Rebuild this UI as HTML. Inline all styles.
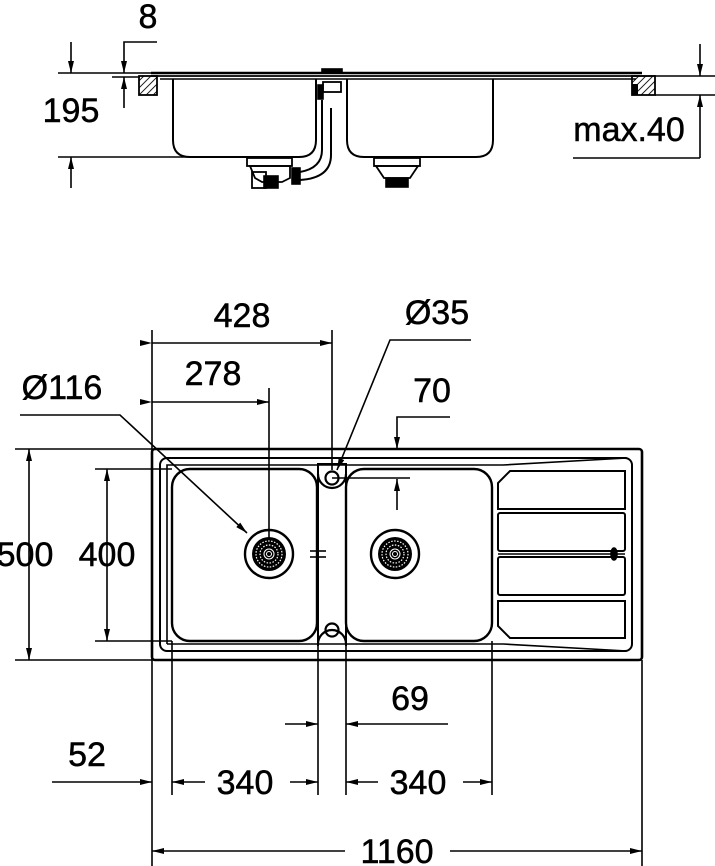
<!DOCTYPE html>
<html><head><meta charset="utf-8"><style>
html,body{margin:0;padding:0;background:#fff;}
svg{display:block;}
text{font-family:"Liberation Sans",Arial,sans-serif;font-size:34px;fill:#000;stroke:#000;stroke-width:0.5;}
</style></head><body>
<svg width="715" height="866" viewBox="0 0 715 866" xmlns="http://www.w3.org/2000/svg">
<defs>
<marker id="a" viewBox="0 0 12 6" refX="12" refY="3" markerWidth="12" markerHeight="6" markerUnits="userSpaceOnUse" orient="auto"><path d="M0,0L12,3L0,6z" fill="#000"/></marker>
<pattern id="h" width="5" height="5" patternUnits="userSpaceOnUse" patternTransform="rotate(45)"><line x1="0" y1="0" x2="0" y2="5" stroke="#000" stroke-width="1.8"/></pattern>
</defs>
<g fill="none" stroke="#000" stroke-width="1.6">
<!-- ===== TOP SECTION ===== -->
<line x1="58" y1="73" x2="152" y2="73"/>
<line x1="58" y1="157" x2="190" y2="157"/>
<line x1="71" y1="42" x2="71" y2="73" marker-end="url(#a)"/>
<line x1="71" y1="188" x2="71" y2="157" marker-end="url(#a)"/>
<polyline points="157,42 124,42 124,73" marker-end="url(#a)"/>
<line x1="124" y1="108" x2="124" y2="77" marker-end="url(#a)"/>
<line x1="112" y1="77" x2="140" y2="77"/>
<rect x="139" y="76" width="18" height="19" fill="url(#h)" stroke-width="1.8"/>
<rect x="632" y="76" width="23" height="19" fill="url(#h)" stroke-width="1.8"/>
<rect x="632" y="84" width="6" height="11" fill="#000" stroke="none"/>
<line x1="632" y1="76" x2="715" y2="76"/>
<line x1="655" y1="95" x2="715" y2="95"/>
<line x1="573" y1="158" x2="700" y2="158"/>
<line x1="700" y1="44" x2="700" y2="76" marker-end="url(#a)"/>
<line x1="700" y1="158" x2="700" y2="95" marker-end="url(#a)"/>
<line x1="151" y1="73" x2="642" y2="73" stroke-width="2.4"/>
<line x1="151" y1="76" x2="640" y2="76" stroke-width="1.8"/>
<line x1="160" y1="79" x2="636" y2="79" stroke-width="1.4"/>
<rect x="322" y="69" width="20" height="4" fill="#000"/>
<path d="M173,79 V140 Q173,157 190,157 H299 Q316,157 316,140 V79" stroke-width="2"/>
<path d="M347,79 V140 Q347,157 364,157 H476 Q493,157 493,140 V79" stroke-width="2"/>
<rect x="323" y="82" width="18" height="10" stroke-width="1.8"/>
<rect x="318" y="85" width="5" height="14" fill="#000"/>
<path d="M322,100 V150 Q322,168 300,172" stroke-width="2"/>
<path d="M331,108 V155 Q331,178 300,180" stroke-width="2"/>
<rect x="247" y="158" width="45" height="8" stroke-width="1.8"/>
<path d="M250,166 H290 V178 L282,182 H262 L255,178 Z" stroke-width="1.8"/>
<rect x="292" y="168" width="8" height="16" fill="#000"/>
<rect x="252" y="172" width="14" height="16" stroke-width="1.8"/>
<rect x="264" y="176" width="14" height="12" fill="#000"/>
<rect x="374" y="158" width="46" height="8" stroke-width="1.8"/>
<path d="M376,166 H418 L410,178 H384 Z" stroke-width="1.8"/>
<rect x="386" y="178" width="22" height="9" fill="#000"/>

<!-- ===== PLAN VIEW ===== -->
<line x1="152" y1="330" x2="152" y2="866"/>
<line x1="642" y1="660" x2="642" y2="866"/>
<line x1="332" y1="330" x2="332" y2="470"/>
<line x1="269" y1="388" x2="269" y2="540"/>
<line x1="15" y1="449" x2="152" y2="449"/>
<line x1="15" y1="660" x2="152" y2="660"/>
<line x1="95" y1="469" x2="172" y2="469"/>
<line x1="95" y1="641" x2="172" y2="641"/>
<line x1="172" y1="641" x2="172" y2="795"/>
<line x1="318" y1="641" x2="318" y2="795"/>
<line x1="346" y1="641" x2="346" y2="795"/>
<line x1="492" y1="641" x2="492" y2="795"/>
<line x1="152" y1="343" x2="332" y2="343" marker-start="url(#a)" marker-end="url(#a)"/>
<line x1="152" y1="402" x2="269" y2="402" marker-start="url(#a)" marker-end="url(#a)"/>
<polyline points="20,415 120,415 247,533" marker-end="url(#a)"/>
<polyline points="471,340 390,340 337,470" marker-end="url(#a)"/>
<polyline points="450,417 397,417 397,449" marker-end="url(#a)"/>
<line x1="397" y1="510" x2="397" y2="479" marker-end="url(#a)"/>
<line x1="332" y1="478" x2="410" y2="478"/>
<line x1="29" y1="555" x2="29" y2="449" marker-end="url(#a)"/>
<line x1="29" y1="555" x2="29" y2="660" marker-end="url(#a)"/>
<line x1="107" y1="555" x2="107" y2="469" marker-end="url(#a)"/>
<line x1="107" y1="555" x2="107" y2="641" marker-end="url(#a)"/>
<line x1="285" y1="724" x2="318" y2="724" marker-end="url(#a)"/>
<line x1="448" y1="724" x2="346" y2="724" marker-end="url(#a)"/>
<line x1="52" y1="782" x2="152" y2="782" marker-end="url(#a)"/>
<line x1="205" y1="782" x2="172" y2="782" marker-end="url(#a)"/>
<line x1="290" y1="782" x2="318" y2="782" marker-end="url(#a)"/>
<line x1="378" y1="782" x2="346" y2="782" marker-end="url(#a)"/>
<line x1="463" y1="782" x2="492" y2="782" marker-end="url(#a)"/>
<line x1="345" y1="851" x2="152" y2="851" marker-end="url(#a)"/>
<line x1="450" y1="851" x2="642" y2="851" marker-end="url(#a)"/>

<rect x="152" y="449" width="490" height="211" rx="3" stroke-width="2.6"/>
<rect x="160" y="458" width="472" height="193" rx="7" stroke-width="2"/>
<path d="M167,644 V465 H503 L627,458" stroke-width="1.6"/>
<path d="M167,644 H503 L627,651" stroke-width="1.6"/>
<rect x="172" y="469" width="145" height="172" rx="18" stroke-width="2.4"/>
<rect x="346" y="469" width="146" height="172" rx="18" stroke-width="2.4"/>
<line x1="318" y1="463" x2="318" y2="646" stroke-width="2"/>
<line x1="346" y1="463" x2="346" y2="646" stroke-width="2"/>
<path d="M318,464 H346" stroke-width="2"/>
<path d="M318,474 A14,14 0 0 0 346,474" stroke-width="2.2"/>
<circle cx="332" cy="478" r="6.5" stroke-width="2.2"/>
<path d="M318,644 A14,14 0 0 1 346,644" stroke-width="2.2"/>
<circle cx="332" cy="630" r="6.5" stroke-width="2.2"/>
<line x1="310" y1="551" x2="326" y2="551"/>
<line x1="310" y1="557" x2="326" y2="557"/>
<line x1="318" y1="546" x2="318" y2="562"/>
<g id="d">
<circle cx="269" cy="554" r="24" stroke-width="2.4"/>
<circle cx="269" cy="554" r="17" fill="#000" stroke="none"/>
<circle cx="269" cy="554" r="13" stroke="#fff" stroke-width="1.2" stroke-dasharray="1.5 1.5"/>
<circle cx="269" cy="554" r="9" stroke="#fff" stroke-width="1.2" stroke-dasharray="1.5 1.5"/>
<circle cx="269" cy="554" r="5" stroke="#fff" stroke-width="1"/>
<circle cx="269" cy="554" r="2.5" stroke="#fff" stroke-width="1"/>
</g>
<use href="#d" x="126"/>
<path d="M510,471 H625 V509 H498 V483 Z" stroke-width="2"/>
<rect x="498" y="513" width="127" height="38" rx="2" stroke-width="2"/>
<rect x="498" y="557" width="127" height="38" rx="2" stroke-width="2"/>
<path d="M498,601 H625 V638 H510 L498,626 Z" stroke-width="2"/>
<line x1="498" y1="554" x2="605" y2="554" stroke-width="1.6"/>
<ellipse cx="614" cy="554" rx="3" ry="6" fill="#000"/>
<line x1="605" y1="554" x2="625" y2="554"/>
</g>

<text x="148" y="28" text-anchor="middle">8</text>
<text x="71" y="122" text-anchor="middle">195</text>
<text x="629" y="141" text-anchor="middle">max.40</text>
<text x="242" y="327" text-anchor="middle">428</text>
<text x="437" y="324" text-anchor="middle">Ø35</text>
<text x="213" y="385" text-anchor="middle">278</text>
<text x="62" y="399" text-anchor="middle">Ø116</text>
<text x="432" y="402" text-anchor="middle">70</text>
<text x="25" y="566" text-anchor="middle">500</text>
<text x="107" y="566" text-anchor="middle">400</text>
<text x="410" y="710" text-anchor="middle">69</text>
<text x="87" y="766" text-anchor="middle">52</text>
<text x="245" y="794" text-anchor="middle">340</text>
<text x="418" y="794" text-anchor="middle">340</text>
<text x="397" y="863" text-anchor="middle">1160</text>
</svg>
</body></html>
